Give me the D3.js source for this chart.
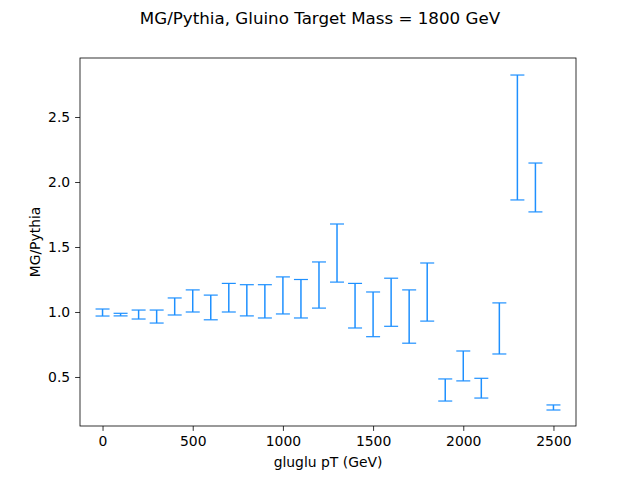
<!DOCTYPE html>
<html><head><meta charset="utf-8">
<script src="https://cdn.jsdelivr.net/npm/d3@7"></script>
<style>body{margin:0;background:#fff;font-family:"DejaVu Sans",sans-serif;}</style>
</head><body><svg id="c" width="640" height="480"></svg>
<script>
// bin centres and error bar ends
var pt = [0,100,200,300,400,500,600,700,800,900,1000,1100,1200,1300,1400,1500,1600,1700,1800,1900,2000,2100,2200,2300,2400,2500];
var hi = [1.023,0.99,1.015,1.015,1.108,1.17,1.13,1.22,1.21,1.21,1.27,1.25,1.385,1.677,1.22,1.154,1.26,1.17,1.377,0.485,0.70,0.49,1.07,2.823,2.146,0.285];
var lo = [0.969,0.97,0.946,0.915,0.977,1.0,0.94,1.0,0.97,0.954,0.985,0.954,1.03,1.23,0.877,0.81,0.89,0.76,0.93,0.315,0.47,0.338,0.677,1.862,1.77,0.246];
var xticks = [0,500,1000,1500,2000,2500];
var yticks = [0.5,1.0,1.5,2.0,2.5];

var svg = d3.select("#c");
var L=80,R=576,T=58,B=426;
var x = d3.scaleLinear().domain([-125,2625]).range([L,R]);
var y = d3.scaleLinear().domain([0.123,2.954]).range([B,T]);

var col="#1e90ff";
var bars = svg.append("g").attr("stroke",col).attr("stroke-width",1.5);
pt.forEach(function(p,i){
  bars.append("line").attr("x1",x(p)).attr("x2",x(p)).attr("y1",y(hi[i])).attr("y2",y(lo[i]));
  [hi[i],lo[i]].forEach(function(v){
    bars.append("line").attr("x1",x(p)-7).attr("x2",x(p)+7).attr("y1",y(v)).attr("y2",y(v)).attr("stroke-width",1.2);
  });
});

var xa = svg.append("g").attr("transform","translate(0,"+B+")")
  .call(d3.axisBottom(x).tickValues(xticks).tickSize(4.9).tickPadding(4.9).tickFormat(d3.format("d")));
var ya = svg.append("g").attr("transform","translate("+L+",0)")
  .call(d3.axisLeft(y).tickValues(yticks).tickSize(4.9).tickPadding(4.9).tickFormat(d3.format(".1f")));
[xa,ya].forEach(function(a){
  a.select(".domain").remove();
  a.selectAll("text").attr("font-size",13.9).attr("font-family","DejaVu Sans").attr("fill","#000");
  a.selectAll("line").attr("stroke","#000").attr("stroke-width",0.8);
});
svg.append("rect").attr("x",L).attr("y",T).attr("width",R-L).attr("height",B-T)
  .attr("fill","none").attr("stroke","#000").attr("stroke-width",0.8);

svg.append("text").attr("x",(L+R)/2).attr("y",467).attr("text-anchor","middle").attr("font-size",13.9).text("gluglu pT (GeV)");
svg.append("text").attr("transform","translate(40,"+((T+B)/2)+") rotate(-90)").attr("text-anchor","middle").attr("font-size",13.9).text("MG/Pythia");
svg.append("text").attr("x",320).attr("y",24).attr("text-anchor","middle").attr("font-size",16.7).text("MG/Pythia, Gluino Target Mass = 1800 GeV");
</script></body></html>
